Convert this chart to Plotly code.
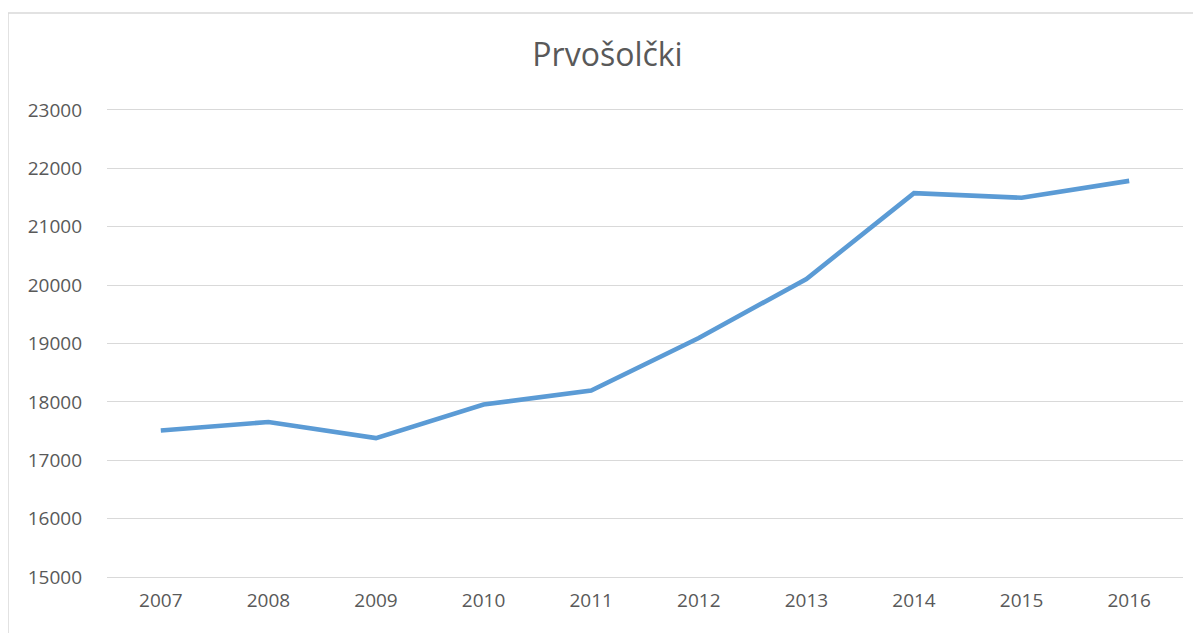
import plotly.graph_objects as go

years = ["2007", "2008", "2009", "2010", "2011", "2012", "2013", "2014", "2015", "2016"]
values = [17510, 17655, 17380, 17955, 18195, 19095, 20105, 21575, 21495, 21785]
y_ticks = [15000, 16000, 17000, 18000, 19000, 20000, 21000, 22000, 23000]
title_text = "Prvošolčki"

# the page body adds an 8px offset, so the figure is laid out 8px smaller
OFF = 8
W, H = 1201 - OFF, 633 - OFF
L, R, T, B = 99, 18, 99, 53
pw, ph = W - L - R, H - T - B

def px_x(p):
    return (p - OFF - L) / pw

def px_y(p):
    return (H - B - (p - OFF)) / ph

fig = go.Figure()
fig.add_trace(go.Scatter(
    x=years, y=values, mode="lines",
    line=dict(color="#5B9BD5", width=4.6),
    hoverinfo="x+y", showlegend=False,
))

fig.update_layout(
    width=W, height=H,
    margin=dict(l=L, r=R, t=T, b=B, pad=0),
    paper_bgcolor="white", plot_bgcolor="white",
    font=dict(family="Open Sans", color="#595959", size=19),
    title=dict(text=title_text, x=(607.5 - OFF) / W, xanchor="center",
               y=1 - (55 - OFF) / H, yanchor="middle",
               font=dict(family="Open Sans", size=32, color="#595959")),
    xaxis=dict(type="category", range=[-0.5, len(years) - 0.5], showgrid=False,
               zeroline=False, showline=False,
               ticks="", tickfont=dict(size=19, color="#595959"), ticklabelstandoff=7),
    yaxis=dict(range=[14950, 23050], tickvals=y_ticks, tickformat="d", showgrid=True,
               gridcolor="#d9d9d9", gridwidth=1.3, zeroline=False, showline=False, ticks="",
               tickfont=dict(size=19, color="#595959"), ticklabelstandoff=24),
    shapes=[dict(type="rect", xref="paper", yref="paper",
                 x0=px_x(8), x1=px_x(1206), y0=px_y(640), y1=px_y(13),
                 line=dict(color="#d9d9d9", width=1.5), fillcolor="rgba(0,0,0,0)", layer="below")],
)

fig.write_html("out.html")
